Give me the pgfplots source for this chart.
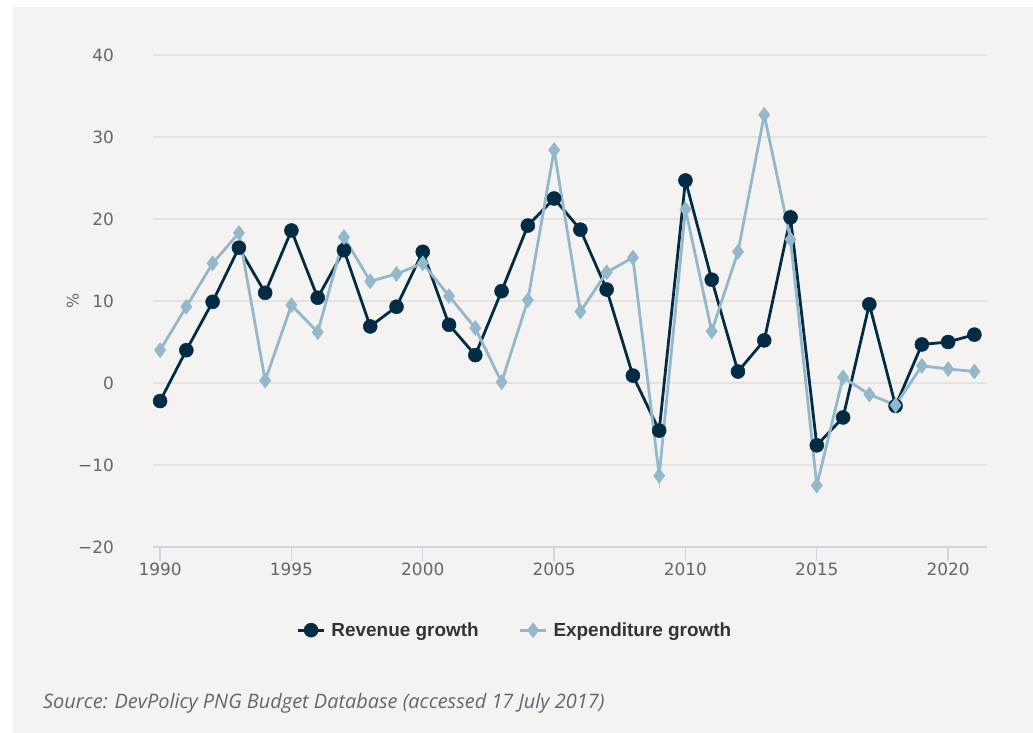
\documentclass[border=0pt]{standalone}
\usepackage{pgfplots}
\pgfplotsset{compat=1.18}
\usepackage{fontspec}
\setmainfont{DejaVu Sans}
\newfontfamily\legendfont{Liberation Sans}
\newfontfamily\sourcefont{Open Sans}

\definecolor{panel}{HTML}{F4F3F2}
\definecolor{revenue}{HTML}{022B45}
\definecolor{expend}{HTML}{93B8CC}
\definecolor{gridc}{HTML}{E4E2E0}
\definecolor{axisc}{HTML}{CCD6EB}
\definecolor{labelc}{HTML}{666666}
\definecolor{legendc}{HTML}{333333}
\definecolor{sourcec}{HTML}{5E6873}

\pgfplotstableread{
year rev exp
1990 -2.2 4.0
1991 4.0 9.3
1992 9.9 14.6
1993 16.5 18.3
1994 11.0 0.3
1995 18.6 9.5
1996 10.4 6.2
1997 16.2 17.8
1998 6.9 12.4
1999 9.3 13.3
2000 16.0 14.6
2001 7.1 10.6
2002 3.4 6.7
2003 11.2 0.1
2004 19.2 10.1
2005 22.5 28.4
2006 18.7 8.7
2007 11.4 13.5
2008 0.9 15.3
2009 -5.8 -11.3
2010 24.7 21.2
2011 12.6 6.3
2012 1.4 16.0
2013 5.2 32.7
2014 20.2 17.5
2015 -7.6 -12.5
2016 -4.2 0.7
2017 9.6 -1.4
2018 -2.8 -2.7
2019 4.7 2.1
2020 5.0 1.7
2021 5.9 1.4
}\growth

\begin{document}
\begin{tikzpicture}
% page and panel
\fill[white] (0bp,0bp) rectangle (1033bp,-733bp);
\fill[panel] (13bp,-7bp) rectangle (1033bp,-733bp);

\begin{axis}[
  at={(153bp,-547bp)}, anchor=south west,
  scale only axis, width=834bp, height=492bp,
  xmin=1989.73, xmax=2021.48,
  ymin=-20, ymax=40,
  clip=false,
  axis x line*=bottom,
  axis y line*=left,
  x axis line style={draw=axisc, line width=1.6bp, -},
  y axis line style={draw=none},
  xtick={1990,1995,...,2020},
  xticklabels={1990,1995,2000,2005,2010,2015,2020},
  ytick={-20,-10,...,40},
  yticklabels={−20,−10,0,10,20,30,40},
  ymajorgrids,
  grid style={gridc, line width=1.4bp},
  tick align=outside,
  major tick length=14bp,
  xtick style={draw=axisc, line width=1.4bp},
  ytick style={draw=none},
  yticklabel style={font=\fontsize{17}{17}\selectfont, text=labelc, inner sep=0pt, anchor=east, xshift=-25bp},
  xticklabel style={font=\fontsize{17}{17}\selectfont, text=labelc, inner sep=0pt, anchor=north, yshift=-2bp},
  ylabel={\%},
  ylabel style={font=\fontsize{16}{16}\selectfont, text=labelc, at={(axis description cs:-0.096,0.5)}, anchor=center},
  legend columns=2,
  legend style={draw=none, fill=none, at={(axis description cs:0.434,-0.169)}, anchor=center,
    font=\legendfont\bfseries\fontsize{19}{19}\selectfont, text=legendc,
    /tikz/every odd column/.append style={column sep=4bp},
    /tikz/every even column/.append style={column sep=38bp}},
  legend image code/.code={
    \draw[#1, mark repeat=2, mark phase=2] plot coordinates {(0bp,0bp)(13bp,0bp)(26bp,0bp)};
  },
]
\addplot[revenue, line width=2.8bp, mark=*, mark size=7bp, mark options={solid, fill=revenue, draw=revenue, line width=0.5bp}]
  table[x=year, y=rev] {\growth};
\addlegendentry{Revenue growth}
\addplot[expend, line width=2.8bp, mark=diamond*, mark size=7.5bp, mark options={solid, fill=expend, draw=expend, line width=0.5bp}]
  table[x=year, y=exp] {\growth};
\addlegendentry{Expenditure growth}
\end{axis}

\node[anchor=base west, inner sep=0pt, text=sourcec, font=\sourcefont\itshape\fontsize{20}{20}\selectfont]
  at (43bp,-708bp) {Source: DevPolicy PNG Budget Database (accessed 17 July 2017)};
\end{tikzpicture}
\end{document}
